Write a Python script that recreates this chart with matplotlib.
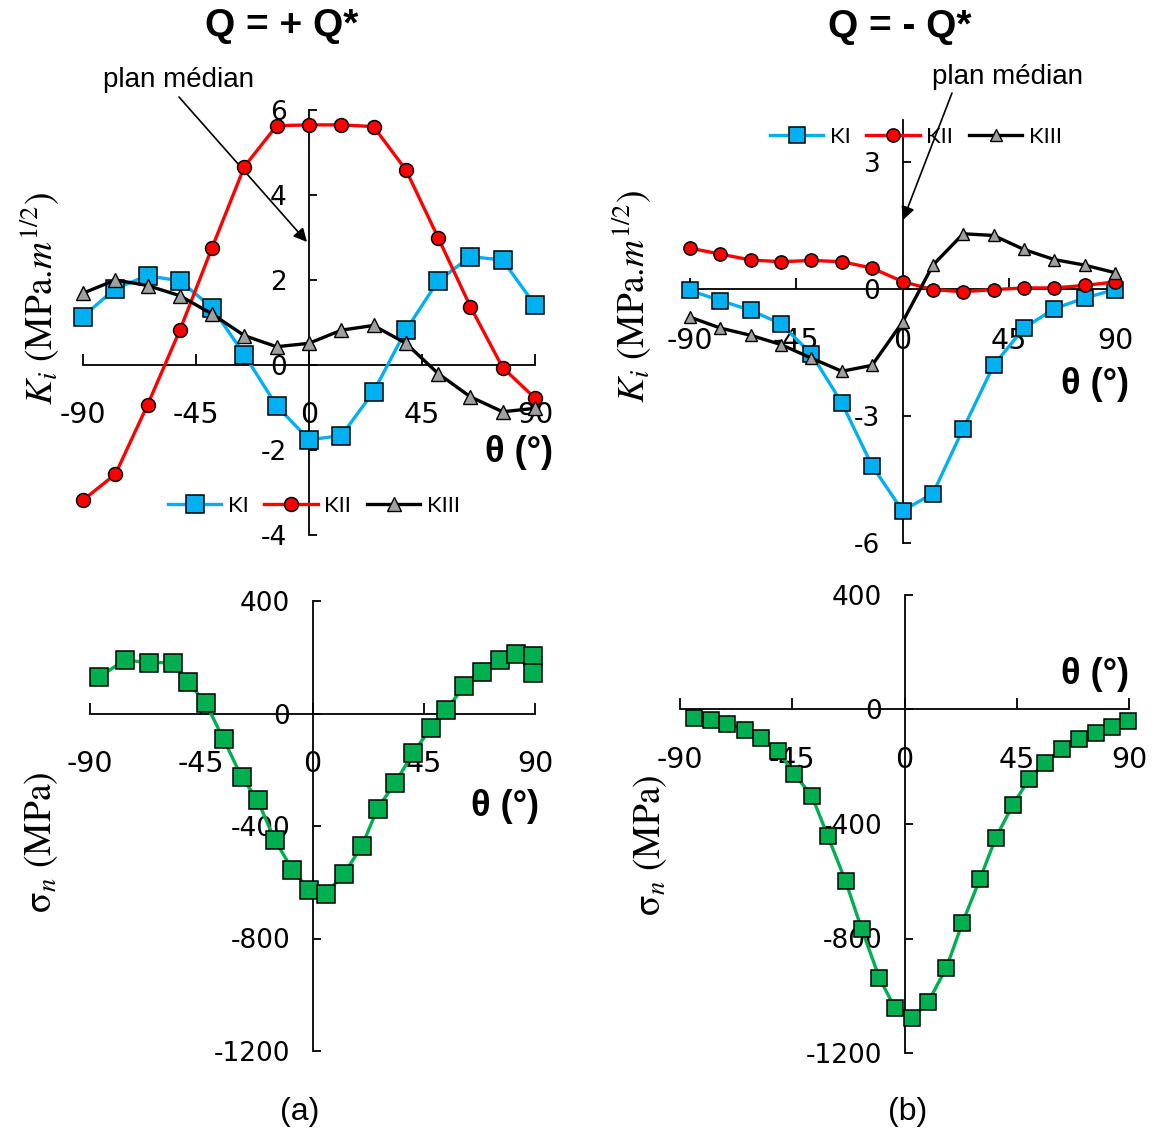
import matplotlib
matplotlib.use('Agg')
import matplotlib.pyplot as plt

plt.rcParams['axes.unicode_minus'] = False
plt.rcParams['mathtext.fontset'] = 'stix'

# angles for the K curves (15 points from -90 to 90)
theta_k = [-90, -77.1, -64.3, -51.4, -38.6, -25.7, -12.9, 0,
           12.9, 25.7, 38.6, 51.4, 64.3, 77.1, 90]

# Q = +Q*
ki_pos = [1.14, 1.80, 2.10, 1.98, 1.35, 0.24, -0.96, -1.76,
          -1.66, -0.63, 0.82, 1.98, 2.55, 2.47, 1.41]
kii_pos = [-3.18, -2.57, -0.94, 0.82, 2.76, 4.67, 5.63, 5.65,
           5.65, 5.61, 4.59, 3.00, 1.37, -0.06, -0.78]
kiii_pos = [1.69, 2.00, 1.87, 1.63, 1.20, 0.69, 0.43, 0.51,
            0.82, 0.93, 0.51, -0.20, -0.75, -1.10, -1.02]

# Q = -Q*
ki_neg = [-0.03, -0.27, -0.50, -0.82, -1.53, -2.69, -4.17, -5.24,
          -4.83, -3.30, -1.80, -0.92, -0.46, -0.21, -0.01]
kii_neg = [0.97, 0.83, 0.69, 0.65, 0.68, 0.65, 0.50, 0.18,
           -0.01, -0.06, -0.01, 0.03, 0.03, 0.09, 0.17]
kiii_neg = [-0.66, -0.92, -1.09, -1.31, -1.63, -1.94, -1.80, -0.78,
            0.57, 1.31, 1.27, 0.94, 0.70, 0.57, 0.39]

# normal stress, Q = +Q*
theta_sn_pos = [-86.3, -75.9, -66.3, -56.6, -50.3, -43.1, -36.0, -28.7, -22.2,
                -15.2, -8.1, -1.6, 5.4, 12.8, 20.0, 26.3, 33.4, 40.7, 47.9,
                54.2, 61.3, 68.5, 75.8, 82.2, 89.3, 89.3]
sn_pos = [130, 190, 181, 181, 112, 36, -91, -225, -308,
          -451, -555, -626, -641, -569, -471, -338, -247, -140, -51,
          14, 97, 148, 192, 211, 204, 145]

# normal stress, Q = -Q*
theta_sn_neg = [-84.5, -77.7, -71.2, -64.1, -57.7, -50.7, -44.3, -37.1, -30.7,
                -23.6, -17.2, -10.1, -3.9, 3.2, 9.5, 16.8, 23.2, 30.2, 36.6,
                43.5, 49.9, 56.2, 63.3, 69.9, 76.9, 83.3, 89.6]
sn_neg = [-28, -37, -49, -70, -101, -145, -224, -303, -443,
          -600, -766, -937, -1042, -1077, -1022, -902, -746, -593, -448,
          -332, -244, -186, -139, -104, -82, -61, -41]

W, H = 1153, 1137
fig = plt.figure(figsize=(W / 100, H / 100), dpi=100)

BLUE = '#00B0F0'
RED = '#FF0000'
GREEN = '#00B050'
GREY = '#A0A0A0'


def fx(px):
    return px / W


def fy(py):
    return 1 - py / H


def make_axes(left, right, top, bottom, ylim, yticks, xpad, ysize=19):
    ax = fig.add_axes([fx(left), fy(bottom), fx(right - left), (bottom - top) / H])
    ax.set_xlim(-90, 90)
    ax.set_ylim(*ylim)
    ax.patch.set_alpha(0)
    for s in ['top', 'right']:
        ax.spines[s].set_visible(False)
    ax.spines['left'].set_position(('data', 0))
    ax.spines['bottom'].set_position(('data', 0))
    for s in ['left', 'bottom']:
        ax.spines[s].set_linewidth(1.3)
    ax.set_xticks([-90, -45, 0, 45, 90])
    ax.set_yticks(yticks)
    ax.tick_params(axis='x', direction='in', length=8, width=1.3, pad=xpad,
                   labelsize=20.5)
    ax.tick_params(axis='y', direction='in', length=6, width=1.3, pad=16,
                   labelsize=ysize)
    for lab in ax.get_xticklabels() + ax.get_yticklabels():
        lab.set_fontfamily('DejaVu Sans')
    return ax


def k_panel(ax, ki, kii, kiii, sq, ci, tr):
    ax.plot(theta_k, ki, color=BLUE, lw=2.4, marker='s', ms=sq, mfc=BLUE,
            mec='black', mew=1.1, clip_on=False, label='KI', zorder=3)
    ax.plot(theta_k, kii, color=RED, lw=2.4, marker='o', ms=ci, mfc=RED,
            mec='black', mew=1.1, clip_on=False, label='KII', zorder=4)
    ax.plot(theta_k, kiii, color='black', lw=2.4, marker='^', ms=tr, mfc=GREY,
            mec='black', mew=1.0, clip_on=False, label='KIII', zorder=5)


def legend_at(ax, x, y):
    leg = ax.legend(loc='center', bbox_to_anchor=(fx(x), fy(y)),
                    bbox_transform=fig.transFigure, ncol=3, frameon=False,
                    handlelength=2.4, handletextpad=0.3, columnspacing=0.7,
                    borderpad=0, prop={'family': ['Lato', 'DejaVu Sans'], 'size': 16})
    return leg


# (a) top
ax1 = make_axes(83, 535, 110, 535, (-4, 6), [-4, -2, 0, 2, 4, 6], 26)
k_panel(ax1, ki_pos, kii_pos, kiii_pos, 13, 10, 10)
legend_at(ax1, 314, 506)

# (b) top
ax2 = make_axes(690, 1115, 120, 543, (-6, 4), [-6, -3, 0, 3], 27)
k_panel(ax2, ki_neg, kii_neg, kiii_neg, 11.5, 9.5, 9)
legend_at(ax2, 916, 137)

# (a) bottom
ax3 = make_axes(90, 535, 601, 1051, (-1200, 400), [-1200, -800, -400, 0, 400], 26)
ax3.plot(theta_sn_pos, sn_pos, color=GREEN, lw=2.4, marker='s', ms=12.5,
         mfc=GREEN, mec='black', mew=1.1, clip_on=False, zorder=3)

# (b) bottom
ax4 = make_axes(680, 1129, 595, 1053, (-1200, 400), [-1200, -800, -400, 0, 400], 26)
ax4.plot(theta_sn_neg, sn_neg, color=GREEN, lw=2.4, marker='s', ms=12,
         mfc=GREEN, mec='black', mew=1.1, clip_on=False, zorder=3)

# titles
title_kw = dict(fontsize=28, fontweight='bold', family='Liberation Sans',
                ha='center', va='center')
fig.text(fx(282), fy(26), 'Q = + Q*', **title_kw)
fig.text(fx(900), fy(27), 'Q = - Q*', **title_kw)

# theta axis labels
th_kw = dict(fontsize=26, fontweight='bold', family='Liberation Sans',
             ha='center', va='center')
fig.text(fx(519), fy(453), 'θ (°)', **th_kw)
fig.text(fx(505), fy(806), 'θ (°)', **th_kw)
fig.text(fx(1095), fy(385), 'θ (°)', **th_kw)
fig.text(fx(1095), fy(674), 'θ (°)', **th_kw)

# y labels
yl_kw = dict(fontsize=27, family='STIXGeneral', rotation=90,
             ha='center', va='center')
fig.text(fx(40), fy(298), '$K_i$ (MPa.$m^{1/2}$)', **yl_kw)
fig.text(fx(632), fy(296), '$K_i$ (MPa.$m^{1/2}$)', **yl_kw)
fig.text(fx(41), fy(842), 'σ$_n$ (MPa)', **yl_kw)
fig.text(fx(650), fy(845), 'σ$_n$ (MPa)', **yl_kw)

# panel tags
fig.text(fx(300), fy(1112), '(a)', fontsize=23, family='Liberation Sans',
         ha='center', va='center')
fig.text(fx(908), fy(1112), '(b)', fontsize=23, family='Liberation Sans',
         ha='center', va='center')

# "plan médian" annotations
arrow = dict(arrowstyle='-|>', color='black', lw=1.2, mutation_scale=20,
             shrinkA=0, shrinkB=0)
fig.text(fx(103), fy(80), 'plan médian', fontsize=20, family='Liberation Sans',
         ha='left', va='center')
fig.text(fx(932), fy(77), 'plan médian', fontsize=20, family='Liberation Sans',
         ha='left', va='center')
ax1.annotate('', xy=(fx(307), fy(242)), xytext=(fx(179), fy(97)),
             xycoords='figure fraction', textcoords='figure fraction',
             arrowprops=arrow)
ax2.annotate('', xy=(fx(903), fy(220)), xytext=(fx(952), fy(93)),
             xycoords='figure fraction', textcoords='figure fraction',
             arrowprops=arrow)

fig.savefig('out.png', dpi=100)
